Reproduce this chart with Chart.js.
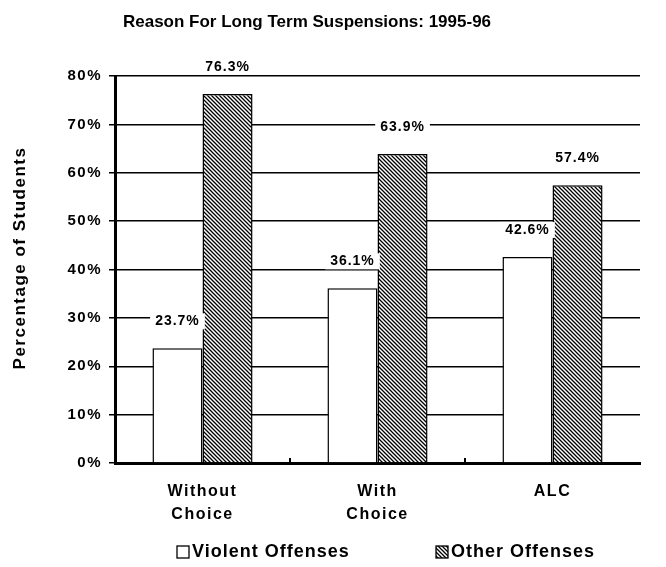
<!DOCTYPE html>
<html>
<head>
<meta charset="utf-8">
<script src="https://cdn.jsdelivr.net/npm/chart.js@4"></script>
<style>
  body { margin: 0; background: #fff; }
  #wrap { width: 666px; height: 567px; }
</style>
</head>
<body>
<div id="wrap"><canvas id="chart" width="666" height="567"></canvas></div>
<script>
const categories = [["Without", "Choice"], ["With", "Choice"], "ALC"];
const violent = [23.7, 36.1, 42.6];
const other = [76.3, 63.9, 57.4];
const seriesNames = ["Violent Offenses", "Other Offenses"];
const yTicks = [0, 10, 20, 30, 40, 50, 60, 70, 80];

const FONT = "'Liberation Sans', Arial, sans-serif";

// diagonal hatch for "Other Offenses"
function hatch() {
  const c = document.createElement("canvas");
  c.width = 4; c.height = 4;
  const g = c.getContext("2d");
  g.fillStyle = "#fff";
  g.fillRect(0, 0, 4, 4);
  g.strokeStyle = "#000";
  g.lineWidth = 1.3;
  g.beginPath();
  g.moveTo(-1, -1); g.lineTo(5, 5);
  g.moveTo(-1, 3); g.lineTo(1, 5);
  g.moveTo(3, -1); g.lineTo(5, 1);
  g.stroke();
  return g.createPattern(c, "repeat");
}
const hatchFill = hatch();

const extras = {
  id: "extras",
  beforeDraw(chart) {
    // the original's lettering is wide, spread it a bit
    chart.ctx.letterSpacing = "1.5px";
  },
  afterDatasetsDraw(chart) {
    const ctx = chart.ctx;
    ctx.save();
    // value labels with white box
    ctx.font = "bold 14px " + FONT;
    ctx.letterSpacing = "1px";
    ctx.textAlign = "center";
    ctx.textBaseline = "middle";
    chart.data.datasets.forEach((ds, i) => {
      chart.getDatasetMeta(i).data.forEach((bar, j) => {
        const txt = ds.data[j].toFixed(1) + "%";
        const y = bar.y - 27;
        const w = ctx.measureText(txt).width + 10;
        ctx.fillStyle = "#fff";
        ctx.fillRect(bar.x - w / 2, y - 8, w, 16);
        ctx.fillStyle = "#000";
        ctx.fillText(txt, bar.x, y);
      });
    });
    // small ticks between categories on x axis
    const xs = chart.scales.x, ys = chart.scales.y;
    ctx.strokeStyle = "#000";
    ctx.lineWidth = 2;
    for (let k = 1; k < categories.length; k++) {
      const x = (xs.getPixelForTick(k - 1) + xs.getPixelForTick(k)) / 2;
      ctx.beginPath();
      ctx.moveTo(x, ys.bottom);
      ctx.lineTo(x, ys.bottom - 5);
      ctx.stroke();
    }
    // title
    ctx.font = "bold 17px " + FONT;
    ctx.letterSpacing = "0px";
    ctx.fillText("Reason For Long Term Suspensions: 1995-96", 307, 22);
    // y axis title (sits a bit above the plot centre in the original)
    ctx.save();
    ctx.translate(20, 258);
    ctx.rotate(-Math.PI / 2);
    ctx.font = "bold 17px " + FONT;
    ctx.letterSpacing = "1.5px";
    ctx.fillText("Percentage of Students", 0, 0);
    ctx.restore();
    // legend
    ctx.font = "bold 18px " + FONT;
    ctx.letterSpacing = "1px";
    ctx.textAlign = "left";
    const items = [[177, "#fff"], [436, hatchFill]];
    items.forEach((it, i) => {
      ctx.fillStyle = it[1];
      ctx.fillRect(it[0], 546, 12, 12);
      ctx.lineWidth = 1.3;
      ctx.strokeRect(it[0], 546, 12, 12);
      ctx.fillStyle = "#000";
      ctx.fillText(seriesNames[i], it[0] + 15, 552);
    });
    ctx.restore();
  }
};

new Chart(document.getElementById("chart"), {
  type: "bar",
  data: {
    labels: categories,
    datasets: [
      { label: seriesNames[0], data: violent, backgroundColor: "#fff", borderColor: "#000", borderWidth: 1.5 },
      { label: seriesNames[1], data: other, backgroundColor: hatchFill, borderColor: "#000", borderWidth: 1.5 }
    ]
  },
  options: {
    responsive: false,
    animation: false,
    categoryPercentage: 0.572,
    barPercentage: 1.0,
    layout: { padding: { top: 76, right: 26, left: 0, bottom: 0 } },
    plugins: { legend: { display: false }, tooltip: { enabled: false } },
    scales: {
      x: {
        grid: { display: false },
        border: { color: "#000", width: 3 },
        ticks: { color: "#000", padding: 9, font: { family: FONT, size: 16, weight: "bold", lineHeight: 1.45 }, maxRotation: 0 },
        afterFit(s) { s.height = 104; }
      },
      y: {
        min: 0, max: 80,
        afterBuildTicks(s) { s.ticks = yTicks.map(v => ({ value: v })); },
        grid: { color: "#000", lineWidth: 1.5, tickLength: 6 },
        border: { color: "#000", width: 3 },
        ticks: { color: "#000", padding: 7, font: { family: FONT, size: 15, weight: "bold" }, callback: v => v + "%" },
        afterFit(s) { s.width = 115; }
      }
    }
  },
  plugins: [extras]
});
</script>
</body>
</html>
